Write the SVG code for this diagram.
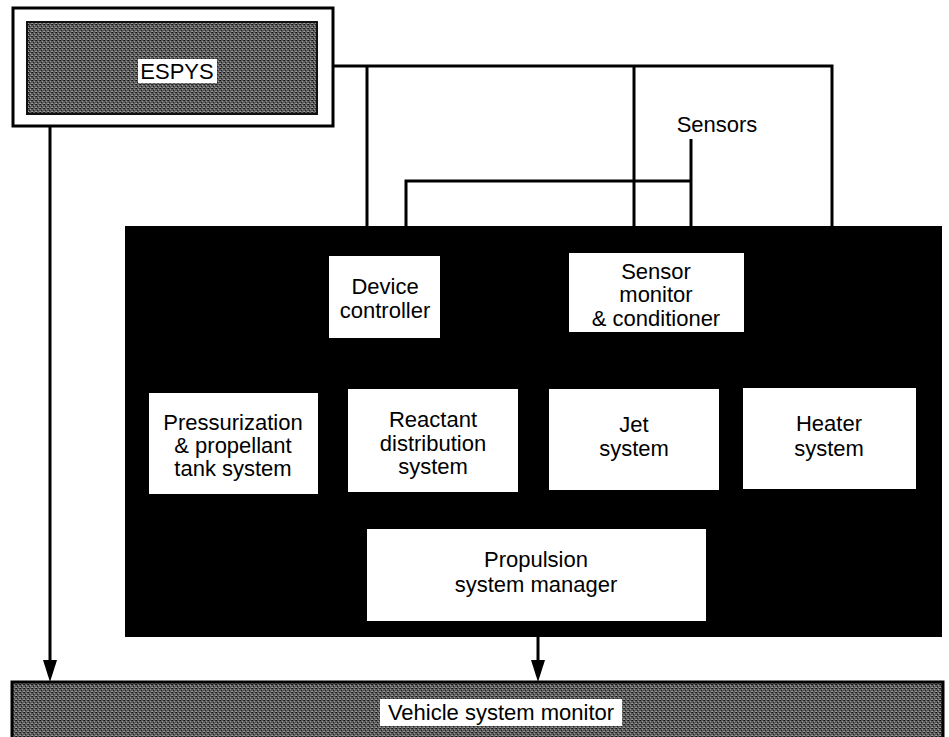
<svg xmlns="http://www.w3.org/2000/svg" width="949" height="737" viewBox="0 0 949 737">
<style>
  text { font-family: "Liberation Sans", Arial, sans-serif; font-size: 22px; fill: #000; text-anchor: middle; }
  .box { fill: #fff; stroke: none; }
  .wire { stroke: #000; stroke-width: 3; fill: none; }
  .label-bg { fill: #fff; }
</style>
<defs>
  <pattern id="halftone" width="4" height="4" patternUnits="userSpaceOnUse">
    <rect width="4" height="4" fill="#5c5c5c"/>
    <rect x="0" y="0" width="1" height="1" fill="#111"/>
    <rect x="2" y="1" width="1" height="1" fill="#999"/>
    <rect x="1" y="2" width="1" height="1" fill="#1a1a1a"/>
    <rect x="3" y="3" width="1" height="1" fill="#8c8c8c"/>
    <rect x="3" y="0" width="1" height="1" fill="#2a2a2a"/>
    <rect x="0" y="3" width="1" height="1" fill="#a0a0a0"/>
  </pattern>
</defs>

<!-- ESPYS -->
<g id="espys">
  <rect x="13" y="8" width="320" height="118" fill="#fff" stroke="#000" stroke-width="3"/>
  <rect x="27" y="22" width="290" height="92" fill="url(#halftone)" stroke="#111" stroke-width="2"/>
  <rect class="label-bg" x="138" y="59" width="79" height="24"/>
  <text x="177" y="79">ESPYS</text>
</g>

<!-- Processor block background -->
<g id="processor">
  <rect x="125" y="226" width="817" height="411" fill="#000"/>
</g>

<g id="device-controller">
  <rect class="box" x="329" y="256" width="111" height="82"/>
  <text x="385" y="294">Device</text>
  <text x="385" y="318">controller</text>
</g>

<g id="sensor-monitor">
  <rect class="box" x="569" y="253" width="175" height="79"/>
  <text x="656" y="279">Sensor</text>
  <text x="656" y="302">monitor</text>
  <text x="656" y="326">&amp; conditioner</text>
</g>

<g id="pressurization">
  <rect class="box" x="149" y="393" width="169" height="101"/>
  <text x="233" y="430">Pressurization</text>
  <text x="233" y="453">&amp; propellant</text>
  <text x="233" y="476">tank system</text>
</g>

<g id="reactant">
  <rect class="box" x="348" y="389" width="170" height="103"/>
  <text x="433" y="427">Reactant</text>
  <text x="433" y="451">distribution</text>
  <text x="433" y="474">system</text>
</g>

<g id="jet">
  <rect class="box" x="549" y="389" width="170" height="101"/>
  <text x="634" y="432">Jet</text>
  <text x="634" y="456">system</text>
</g>

<g id="heater">
  <rect class="box" x="743" y="388" width="173" height="101"/>
  <text x="829" y="431">Heater</text>
  <text x="829" y="456">system</text>
</g>

<g id="propulsion-manager">
  <rect class="box" x="367" y="529" width="339" height="92"/>
  <text x="536" y="567">Propulsion</text>
  <text x="536" y="592">system manager</text>
</g>

<g id="sensors">
  <text x="717" y="132">Sensors</text>
</g>

<g id="vehicle-monitor">
  <rect x="12" y="682" width="931" height="57" fill="url(#halftone)" stroke="#000" stroke-width="3"/>
  <rect class="label-bg" x="380" y="699" width="242" height="27"/>
  <text x="501" y="720">Vehicle system monitor</text>
</g>

<!-- Connectors -->
<g id="connectors">
  <polyline class="wire" points="333,66 832,66 832,226"/>
  <line class="wire" x1="367" y1="66" x2="367" y2="226"/>
  <line class="wire" x1="634" y1="66" x2="634" y2="226"/>
  <line class="wire" x1="691" y1="139" x2="691" y2="226"/>
  <polyline class="wire" points="691,181 406,181 406,226"/>
  <line class="wire" x1="50" y1="126" x2="50" y2="662"/>
  <path d="M43,660 L57,660 L50,682 Z" fill="#000"/>
  <line class="wire" x1="538" y1="637" x2="538" y2="662"/>
  <path d="M531,660 L545,660 L538,682 Z" fill="#000"/>
</g>
</svg>
